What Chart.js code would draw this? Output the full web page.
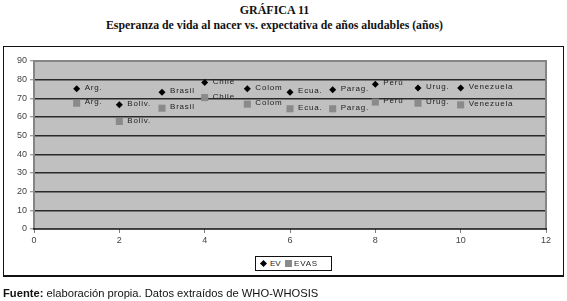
<!DOCTYPE html>
<html><head><meta charset="utf-8">
<script src="https://cdn.jsdelivr.net/npm/chart.js@4.4.1/dist/chart.umd.min.js"></script>
<style>
html,body{margin:0;padding:0;background:#fff;}
#wrap{position:relative;width:567px;height:301px;overflow:hidden;}
.t{position:absolute;left:0;width:549px;text-align:center;font-family:"Liberation Serif","Times New Roman",serif;font-weight:bold;color:#111;white-space:nowrap;}
#box{position:absolute;left:3px;top:46px;width:559px;height:228px;border:1px solid #111;border-bottom:2px solid #111;}
#c{position:absolute;left:0;top:0;}
#legend{position:absolute;left:255px;top:256px;width:75px;height:13px;border:1px solid #111;font-family:"Liberation Sans",Arial,sans-serif;font-size:8px;color:#222;line-height:13px;background:#fff;}
#legend span{position:absolute;top:0;}
#foot{position:absolute;left:3px;top:287px;font-family:"Liberation Sans",Arial,sans-serif;font-size:11.2px;color:#111;white-space:nowrap;}
</style></head>
<body>
<div id="wrap">
  <div class="t" style="top:3px;font-size:12px;">GRÁFICA 11</div>
  <div class="t" style="top:18px;font-size:11.8px;">Esperanza de vida al nacer vs. expectativa de años aludables (años)</div>
  <div id="box"></div>
  <canvas id="c" width="567" height="301"></canvas>
  <div id="legend">
    <span style="left:5px;top:4px;width:5px;height:5px;background:#000;transform:rotate(45deg);"></span>
    <span style="left:14px;">EV</span>
    <span style="left:29px;top:3px;width:7px;height:7px;background:#8a8a8a;"></span>
    <span style="left:38px;letter-spacing:0.8px;">EVAS</span>
  </div>
  <div id="foot"><b>Fuente:</b> elaboración propia. Datos extraídos de WHO-WHOSIS</div>
</div>
<script>
const categories = ["Arg.", "Boliv.", "Brasil", "Chile", "Colom", "Ecua.", "Parag.", "Perú", "Urug.", "Venezuela"];
const xPositions = [1, 2, 3, 4, 5, 6, 7, 8, 9, 10];
const evValues   = [75.1, 66.5, 73.3, 78.5, 75.1, 73.3, 74.6, 77.6, 75.5, 75.5];
const evasValues = [67.4, 57.6, 64.7, 70.4, 66.9, 64.4, 64.4, 68.0, 67.4, 66.5];
const yTicks = [0, 10, 20, 30, 40, 50, 60, 70, 80, 90];
const xTicks = [0, 2, 4, 6, 8, 10, 12];

const toPoints = vals => vals.map((v, i) => ({x: xPositions[i], y: v}));

const plotBg = {
  id: 'plotBg',
  beforeDraw(chart) {
    const {ctx, chartArea: a} = chart;
    ctx.save();
    ctx.fillStyle = '#c0c0c0';
    ctx.fillRect(a.left, a.top, a.right - a.left, a.bottom - a.top);
    ctx.restore();
  },
  beforeDatasetsDraw(chart) {
    const {ctx, chartArea: a} = chart;
    ctx.save();
    ctx.strokeStyle = '#858585';
    ctx.lineWidth = 2;
    ctx.beginPath();
    ctx.moveTo(a.left, a.bottom);
    ctx.lineTo(a.left, a.top);
    ctx.lineTo(a.right, a.top);
    ctx.lineTo(a.right, a.bottom);
    ctx.stroke();
    ctx.strokeStyle = '#111';
    ctx.lineWidth = 1.5;
    ctx.beginPath();
    ctx.moveTo(a.left - 1, a.bottom);
    ctx.lineTo(a.right + 1, a.bottom);
    ctx.stroke();
    ctx.restore();
  }
};

const pointLabels = {
  id: 'pointLabels',
  afterDatasetsDraw(chart) {
    const {ctx} = chart;
    ctx.save();
    ctx.font = '8px "Liberation Sans", Arial, sans-serif';
    ctx.fillStyle = '#222';
    ctx.textBaseline = 'middle';
    ctx.textAlign = 'left';
    try { ctx.letterSpacing = '0.8px'; } catch (e) {}
    chart.data.datasets.forEach((ds, di) => {
      chart.getDatasetMeta(di).data.forEach((el, i) => {
        ctx.fillText(categories[i], el.x + 8, el.y - 1);
      });
    });
    ctx.restore();
  }
};

new Chart(document.getElementById('c'), {
  type: 'scatter',
  data: {
    datasets: [
      {label: 'EV', data: toPoints(evValues), pointStyle: 'rectRot', radius: 3.5,
       backgroundColor: '#000', borderColor: '#000', borderWidth: 0},
      {label: 'EVAS', data: toPoints(evasValues), pointStyle: 'rect', radius: 5,
       backgroundColor: '#8a8a8a', borderColor: '#8a8a8a', borderWidth: 0}
    ]
  },
  options: {
    responsive: false,
    animation: false,
    events: [],
    layout: {padding: {top: 61, left: 0, right: 21, bottom: 56}},
    plugins: {legend: {display: false}, tooltip: {enabled: false}},
    scales: {
      x: {
        type: 'linear', min: xTicks[0], max: xTicks[xTicks.length - 1],
        afterBuildTicks: s => { s.ticks = xTicks.map(v => ({value: v})); },
        afterFit: s => { s.height = 16; },
        grid: {drawOnChartArea: false, drawTicks: true, tickLength: 4, tickColor: '#808080', tickWidth: 1},
        border: {display: false},
        ticks: {padding: 2, color: '#444', font: {family: '"Liberation Sans", Arial, sans-serif', size: 9}, maxRotation: 0}
      },
      y: {
        type: 'linear', min: yTicks[0], max: yTicks[yTicks.length - 1],
        afterBuildTicks: s => { s.ticks = yTicks.map(v => ({value: v})); },
        afterFit: s => { s.width = 34; },
        grid: {
          color: c => (c.tick && c.tick.value > 0 && c.tick.value < 90) ? '#2a2a2a' : 'rgba(0,0,0,0)',
          lineWidth: 1.5, drawTicks: true, tickLength: 4, tickColor: '#808080', tickWidth: 1
        },
        border: {display: false},
        ticks: {padding: 3, color: '#444', font: {family: '"Liberation Sans", Arial, sans-serif', size: 9}}
      }
    }
  },
  plugins: [plotBg, pointLabels]
});
</script>
</body></html>
